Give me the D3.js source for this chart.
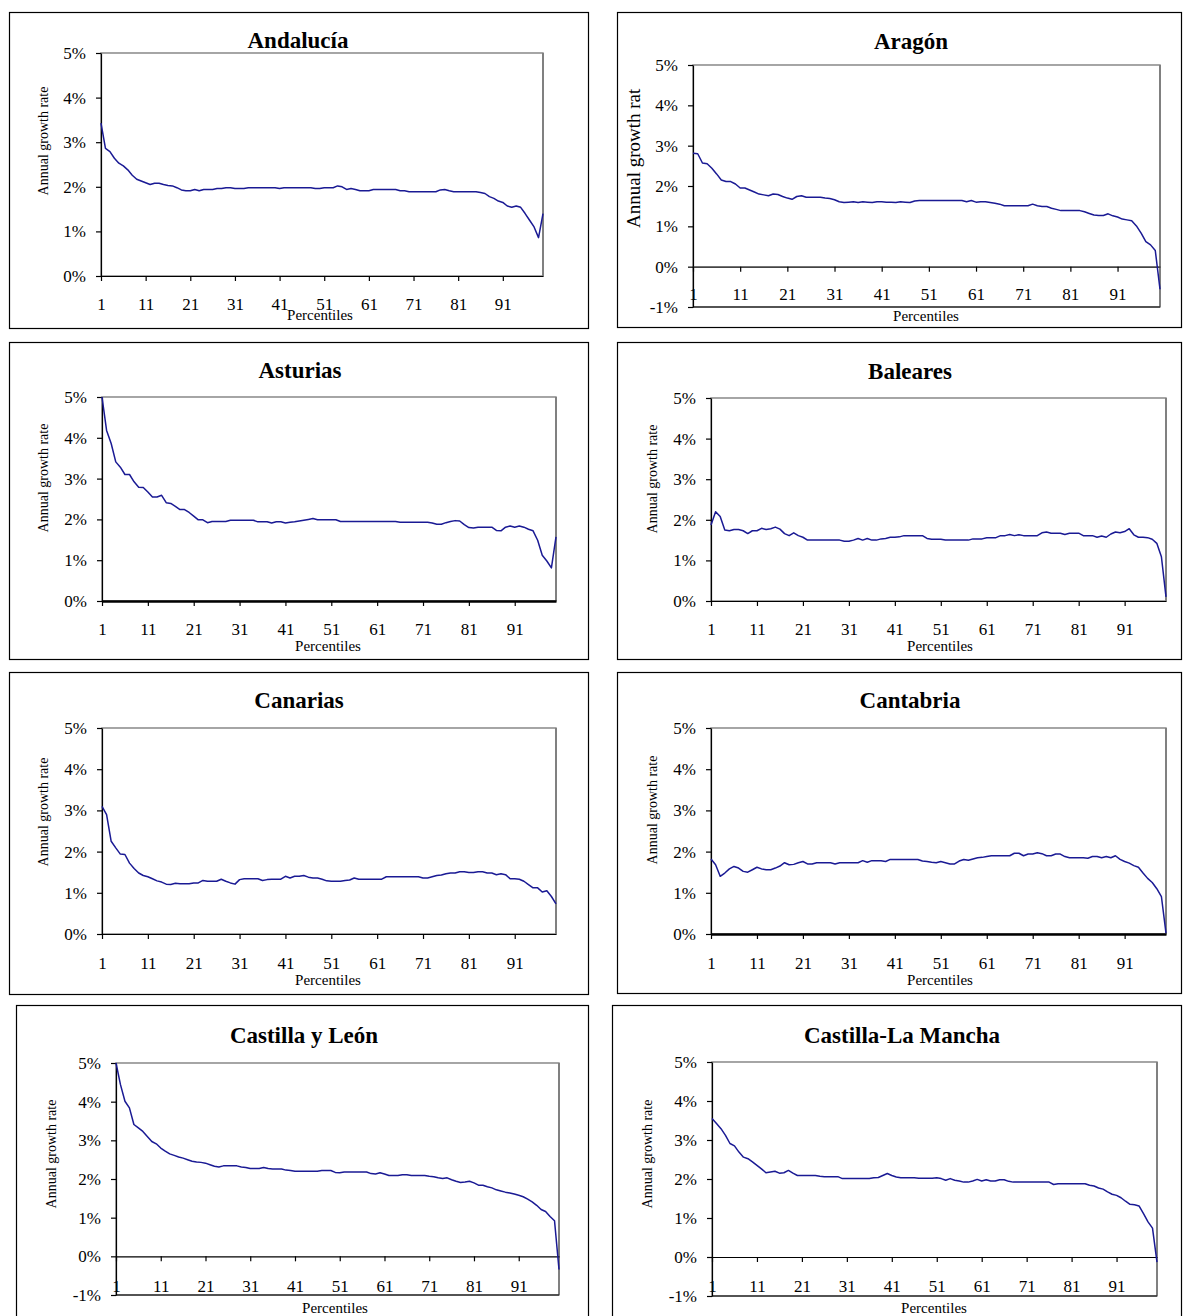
<!DOCTYPE html>
<html>
<head>
<meta charset="utf-8">
<script src="https://cdn.jsdelivr.net/npm/d3@7"></script>
<style>
  body { margin: 0; background: #fff; }
  svg { display: block; }
  text { font-family: "Liberation Serif", "Times New Roman", serif; fill: #000; }
</style>
</head>
<body>
<script>
"use strict";

// ---- data (percentiles 1..100, annual growth rate in %) ----
var regions = ["Andalucía", "Aragón", "Asturias", "Baleares", "Canarias", "Cantabria", "Castilla y León", "Castilla-La Mancha"];
var xTicks = [1, 11, 21, 31, 41, 51, 61, 71, 81, 91];
var yTicksPos = [0, 1, 2, 3, 4, 5];
var yTicksNeg = [-1, 0, 1, 2, 3, 4, 5];
var yMins = [0, -1, 0, 0, 0, 0, -1, -1];

var andalucia = [
  3.43, 2.86, 2.79, 2.64, 2.53, 2.47, 2.38, 2.26, 2.17, 2.13,
  2.09, 2.05, 2.08, 2.08, 2.05, 2.03, 2.02, 1.98, 1.93, 1.91,
  1.91, 1.94, 1.91, 1.94, 1.94, 1.94, 1.96, 1.96, 1.98, 1.98,
  1.96, 1.96, 1.96, 1.98, 1.98, 1.98, 1.98, 1.98, 1.98, 1.98,
  1.96, 1.98, 1.98, 1.98, 1.98, 1.98, 1.98, 1.98, 1.96, 1.96,
  1.98, 1.98, 1.98, 2.02, 2.00, 1.94, 1.96, 1.94, 1.91, 1.91,
  1.91, 1.94, 1.94, 1.94, 1.94, 1.94, 1.94, 1.91, 1.91, 1.89,
  1.89, 1.89, 1.89, 1.89, 1.89, 1.89, 1.93, 1.94, 1.91, 1.89,
  1.89, 1.89, 1.89, 1.89, 1.89, 1.87, 1.85, 1.78, 1.74, 1.68,
  1.65, 1.57, 1.54, 1.57, 1.54, 1.40, 1.25, 1.10, 0.86, 1.40
];
var aragon = [
  2.81, 2.80, 2.57, 2.55, 2.44, 2.30, 2.15, 2.11, 2.11, 2.05,
  1.95, 1.95, 1.90, 1.85, 1.80, 1.78, 1.76, 1.80, 1.79, 1.74,
  1.70, 1.67, 1.74, 1.76, 1.72, 1.72, 1.72, 1.72, 1.70, 1.69,
  1.66, 1.61, 1.59, 1.60, 1.61, 1.59, 1.61, 1.60, 1.59, 1.61,
  1.61, 1.60, 1.60, 1.59, 1.61, 1.60, 1.59, 1.63, 1.64, 1.64,
  1.64, 1.64, 1.64, 1.64, 1.64, 1.64, 1.64, 1.64, 1.61, 1.64,
  1.60, 1.61, 1.61, 1.59, 1.57, 1.55, 1.51, 1.51, 1.51, 1.51,
  1.51, 1.51, 1.55, 1.51, 1.49, 1.49, 1.45, 1.42, 1.39, 1.39,
  1.39, 1.39, 1.39, 1.36, 1.32, 1.28, 1.27, 1.27, 1.31, 1.26,
  1.23, 1.18, 1.16, 1.14, 1.01, 0.83, 0.62, 0.54, 0.40, -0.56
];
var asturias = [
  5.00, 4.18, 3.86, 3.41, 3.28, 3.10, 3.10, 2.92, 2.79, 2.78,
  2.67, 2.55, 2.55, 2.59, 2.41, 2.39, 2.32, 2.24, 2.24, 2.17,
  2.08, 1.99, 1.99, 1.92, 1.95, 1.95, 1.95, 1.95, 1.98, 1.98,
  1.98, 1.98, 1.98, 1.98, 1.94, 1.94, 1.94, 1.91, 1.94, 1.94,
  1.91, 1.93, 1.94, 1.96, 1.98, 2.00, 2.02, 1.99, 1.99, 1.99,
  1.99, 1.99, 1.95, 1.95, 1.95, 1.95, 1.95, 1.95, 1.95, 1.95,
  1.95, 1.95, 1.95, 1.95, 1.95, 1.93, 1.93, 1.93, 1.93, 1.93,
  1.93, 1.93, 1.91, 1.88, 1.88, 1.92, 1.95, 1.97, 1.96, 1.87,
  1.80, 1.79, 1.81, 1.81, 1.81, 1.81, 1.73, 1.72, 1.81, 1.84,
  1.81, 1.84, 1.81, 1.76, 1.72, 1.49, 1.12, 0.98, 0.81, 1.57
];
var baleares = [
  1.87, 2.20, 2.08, 1.75, 1.73, 1.76, 1.76, 1.73, 1.66, 1.73,
  1.73, 1.79, 1.76, 1.78, 1.82, 1.77, 1.66, 1.61, 1.68, 1.61,
  1.57, 1.50, 1.50, 1.50, 1.50, 1.50, 1.50, 1.50, 1.50, 1.47,
  1.47, 1.50, 1.54, 1.50, 1.54, 1.50, 1.50, 1.53, 1.54, 1.57,
  1.57, 1.58, 1.61, 1.61, 1.61, 1.61, 1.61, 1.54, 1.52, 1.52,
  1.52, 1.50, 1.50, 1.50, 1.50, 1.50, 1.50, 1.53, 1.53, 1.53,
  1.56, 1.56, 1.56, 1.61, 1.61, 1.64, 1.61, 1.63, 1.61, 1.61,
  1.61, 1.61, 1.68, 1.70, 1.67, 1.67, 1.67, 1.64, 1.67, 1.67,
  1.67, 1.61, 1.61, 1.61, 1.57, 1.60, 1.57, 1.65, 1.70, 1.68,
  1.71, 1.78, 1.63, 1.57, 1.57, 1.56, 1.52, 1.42, 1.09, 0.10
];
var canarias = [
  3.10, 2.90, 2.25, 2.09, 1.94, 1.93, 1.72, 1.59, 1.48, 1.42,
  1.39, 1.34, 1.29, 1.26, 1.21, 1.20, 1.23, 1.22, 1.22, 1.22,
  1.24, 1.24, 1.30, 1.28, 1.28, 1.28, 1.33, 1.28, 1.24, 1.21,
  1.32, 1.34, 1.34, 1.34, 1.34, 1.30, 1.32, 1.33, 1.33, 1.33,
  1.40, 1.36, 1.40, 1.40, 1.42, 1.38, 1.36, 1.36, 1.33, 1.29,
  1.28, 1.28, 1.28, 1.30, 1.31, 1.36, 1.33, 1.33, 1.33, 1.33,
  1.33, 1.33, 1.39, 1.39, 1.39, 1.39, 1.39, 1.39, 1.39, 1.39,
  1.36, 1.36, 1.39, 1.42, 1.43, 1.46, 1.48, 1.48, 1.51, 1.51,
  1.49, 1.49, 1.51, 1.51, 1.48, 1.48, 1.44, 1.46, 1.44, 1.34,
  1.34, 1.33, 1.28, 1.20, 1.12, 1.12, 1.02, 1.05, 0.91, 0.73
];
var cantabria = [
  1.82, 1.68, 1.40, 1.48, 1.58, 1.64, 1.60, 1.52, 1.50, 1.56,
  1.62, 1.58, 1.56, 1.56, 1.60, 1.65, 1.73, 1.68, 1.69, 1.73,
  1.76, 1.70, 1.70, 1.73, 1.73, 1.73, 1.73, 1.70, 1.73, 1.73,
  1.73, 1.73, 1.73, 1.78, 1.74, 1.78, 1.78, 1.78, 1.76, 1.81,
  1.81, 1.81, 1.81, 1.81, 1.81, 1.81, 1.77, 1.76, 1.74, 1.73,
  1.76, 1.73, 1.70, 1.70, 1.77, 1.81, 1.79, 1.82, 1.85, 1.86,
  1.88, 1.90, 1.90, 1.90, 1.90, 1.90, 1.96, 1.96, 1.90, 1.94,
  1.94, 1.97, 1.95, 1.90, 1.90, 1.94, 1.94, 1.88, 1.85, 1.85,
  1.85, 1.85, 1.84, 1.88, 1.88, 1.85, 1.88, 1.85, 1.90, 1.81,
  1.76, 1.72, 1.66, 1.62, 1.48, 1.35, 1.25, 1.10, 0.91, 0.02
];
var castillaLeon = [
  5.00, 4.44, 4.01, 3.84, 3.41, 3.32, 3.23, 3.10, 2.97, 2.91,
  2.80, 2.72, 2.65, 2.61, 2.57, 2.54, 2.50, 2.46, 2.44, 2.43,
  2.41, 2.37, 2.33, 2.31, 2.34, 2.34, 2.34, 2.34, 2.31, 2.30,
  2.27, 2.27, 2.27, 2.30, 2.27, 2.26, 2.26, 2.26, 2.23, 2.22,
  2.20, 2.20, 2.20, 2.20, 2.20, 2.20, 2.22, 2.22, 2.22, 2.17,
  2.16, 2.18, 2.18, 2.18, 2.18, 2.18, 2.18, 2.14, 2.13, 2.16,
  2.13, 2.09, 2.09, 2.09, 2.11, 2.11, 2.09, 2.09, 2.09, 2.09,
  2.07, 2.06, 2.03, 2.01, 2.03, 1.98, 1.94, 1.91, 1.92, 1.94,
  1.90, 1.84, 1.84, 1.80, 1.77, 1.72, 1.69, 1.66, 1.64, 1.61,
  1.58, 1.54, 1.48, 1.41, 1.32, 1.21, 1.16, 1.03, 0.92, -0.34
];
var castillaMancha = [
  3.55, 3.42, 3.29, 3.12, 2.91, 2.85, 2.69, 2.56, 2.52, 2.44,
  2.35, 2.26, 2.16, 2.18, 2.20, 2.15, 2.16, 2.22, 2.15, 2.09,
  2.09, 2.09, 2.09, 2.09, 2.07, 2.06, 2.06, 2.06, 2.06, 2.01,
  2.01, 2.01, 2.01, 2.01, 2.01, 2.01, 2.03, 2.04, 2.09, 2.14,
  2.09, 2.05, 2.03, 2.03, 2.03, 2.03, 2.02, 2.02, 2.02, 2.02,
  2.03, 2.01, 1.97, 2.01, 1.97, 1.95, 1.92, 1.92, 1.95, 1.99,
  1.95, 1.98, 1.95, 1.95, 1.98, 1.98, 1.94, 1.92, 1.92, 1.92,
  1.92, 1.92, 1.92, 1.92, 1.92, 1.92, 1.86, 1.88, 1.88, 1.88,
  1.88, 1.88, 1.88, 1.88, 1.84, 1.82, 1.77, 1.74, 1.67, 1.61,
  1.58, 1.52, 1.43, 1.35, 1.34, 1.31, 1.11, 0.90, 0.74, -0.13
];
var series = [andalucia, aragon, asturias, baleares, canarias, cantabria, castillaLeon, castillaMancha];

// ---- layout of the 8 panels (box = outer frame, plot = [left, top, right, bottom]) ----
var layout = [
  { box: [9, 12, 588, 328],     plot: [101, 53, 543, 276],   title: [298, 48],   ylab: [43, 141],   xlabY: 310,  pct: [320, 320] },
  { box: [617, 12, 1181, 327],  plot: [693, 65, 1160, 307],  title: [911, 49],   ylab: [633, 228],  xlabY: 300,  pct: [926, 321] },
  { box: [9, 342, 588, 659],    plot: [102, 397, 556, 601],  title: [300, 378],  ylab: [43, 478],   xlabY: 635,  pct: [328, 651] },
  { box: [617, 342, 1181, 659], plot: [711, 398, 1166, 601], title: [910, 379],  ylab: [652, 479],  xlabY: 635,  pct: [940, 651] },
  { box: [9, 672, 588, 994],    plot: [102, 728, 556, 934],  title: [299, 708],  ylab: [43, 812],   xlabY: 969,  pct: [328, 985] },
  { box: [617, 672, 1181, 993], plot: [711, 728, 1166, 934], title: [910, 708],  ylab: [652, 810],  xlabY: 969,  pct: [940, 985] },
  { box: [16, 1005, 588, 1330], plot: [116, 1063, 559, 1295], title: [304, 1043], ylab: [51, 1154], xlabY: 1292, pct: [335, 1313] },
  { box: [612, 1005, 1181, 1330], plot: [712, 1062, 1157, 1296], title: [902, 1043], ylab: [647, 1154], xlabY: 1292, pct: [934, 1313] }
];
var zeroWidth = [1.2, 1.6, 2.6, 1.2, 1.2, 2.6, 1.2, 1.2];
var zeroColor = ["#000", "#444", "#000", "#000", "#000", "#000", "#000", "#000"];

var svg = d3.select("body").append("svg").attr("width", 1183).attr("height", 1316);

var defs = svg.append("defs");
defs.append("clipPath").attr("id", "ylabClip")
  .append("rect").attr("x", 600).attr("y", 88).attr("width", 60).attr("height", 200);

series.forEach(function (vals, i) {
  var L = layout[i];
  var g = svg.append("g");

  // outer frame
  g.append("rect")
    .attr("x", L.box[0] + 0.5).attr("y", L.box[1] + 0.5)
    .attr("width", L.box[2] - L.box[0]).attr("height", L.box[3] - L.box[1])
    .attr("fill", "none").attr("stroke", "#000").attr("stroke-width", 1.2);

  var x = d3.scaleLinear().domain([1, 100]).range([L.plot[0], L.plot[2]]);
  var y = d3.scaleLinear().domain([yMins[i], 5]).range([L.plot[3], L.plot[1]]);

  // plot area border (grey, as in the spreadsheet charts)
  g.append("rect")
    .attr("x", L.plot[0]).attr("y", L.plot[1])
    .attr("width", L.plot[2] - L.plot[0]).attr("height", L.plot[3] - L.plot[1])
    .attr("fill", "none").attr("stroke", "#808080").attr("stroke-width", 1.4);
  g.append("line")
    .attr("x1", L.plot[2]).attr("x2", L.plot[2])
    .attr("y1", L.plot[1]).attr("y2", L.plot[3])
    .attr("stroke", "#808080").attr("stroke-width", 2);
  if (yMins[i] < 0) {
    g.append("line")
      .attr("x1", L.plot[0]).attr("x2", L.plot[2])
      .attr("y1", L.plot[3]).attr("y2", L.plot[3])
      .attr("stroke", "#000").attr("stroke-width", 1.2);
  }

  // y axis
  var yAxis = d3.axisLeft(y)
    .tickValues(yMins[i] < 0 ? yTicksNeg : yTicksPos)
    .tickFormat(function (d) { return d + "%"; })
    .tickSize(5).tickSizeOuter(0).tickPadding(10);
  var gy = g.append("g").attr("transform", "translate(" + L.plot[0] + ",0)").call(yAxis);
  gy.attr("font-family", null).attr("font-size", null);
  gy.selectAll("text").attr("font-size", 17);
  gy.selectAll("line, path").attr("stroke", "#000").attr("stroke-width", 1.2);

  // x axis on the 0% line
  var xAxis = d3.axisBottom(x).tickValues(xTicks).tickSize(5).tickSizeOuter(0);
  var gx = g.append("g").attr("transform", "translate(0," + y(0) + ")").call(xAxis);
  gx.attr("font-family", null).attr("font-size", null);
  gx.selectAll("text").attr("font-size", 17).attr("y", L.xlabY - y(0)).attr("dy", 0);
  gx.selectAll("line").attr("stroke", "#000").attr("stroke-width", 1.2);
  gx.select(".domain").attr("stroke", zeroColor[i]).attr("stroke-width", zeroWidth[i]);

  // data line
  var line = d3.line()
    .x(function (d, j) { return x(j + 1); })
    .y(function (d) { return y(d); });
  g.append("path").datum(vals)
    .attr("d", line)
    .attr("fill", "none")
    .attr("stroke", "#1a1a94")
    .attr("stroke-width", 1.5)
    .attr("stroke-linejoin", "round");

  // title
  g.append("text")
    .attr("x", L.title[0]).attr("y", L.title[1])
    .attr("text-anchor", "middle")
    .attr("font-weight", "bold").attr("font-size", 23)
    .text(regions[i]);

  // y axis title (Aragón's is larger and cut off in the original)
  if (i === 1) {
    g.append("g").attr("clip-path", "url(#ylabClip)")
      .append("text")
      .attr("transform", "translate(" + L.ylab[0] + "," + L.ylab[1] + ") rotate(-90)")
      .attr("dy", "0.35em").attr("text-anchor", "start")
      .attr("font-size", 19)
      .text("Annual growth rate");
  } else {
    g.append("text")
      .attr("transform", "translate(" + L.ylab[0] + "," + L.ylab[1] + ") rotate(-90)")
      .attr("dy", "0.35em").attr("text-anchor", "middle")
      .attr("font-size", 14)
      .text("Annual growth rate");
  }

  // x axis title
  g.append("text")
    .attr("x", L.pct[0]).attr("y", L.pct[1])
    .attr("text-anchor", "middle").attr("font-size", 15)
    .text("Percentiles");
});
</script>
</body>
</html>
